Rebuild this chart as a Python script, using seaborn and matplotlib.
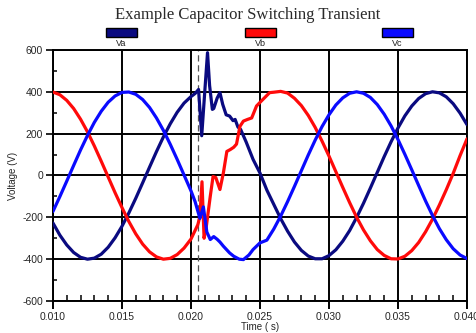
import matplotlib
matplotlib.use("Agg")
import matplotlib.pyplot as plt
from matplotlib.patches import Rectangle
from matplotlib.ticker import MultipleLocator, FormatStrFormatter
import pandas as pd
import seaborn as sns

# --- data (time in ms, voltage in V) ---
va_time_ms = [
    10.0, 10.5, 11.0, 11.5, 12.0, 12.5, 13.0, 13.5, 14.0, 14.5, 15.0,
    15.5, 16.0, 16.5, 17.0, 17.5, 18.0, 18.5, 19.0, 19.5, 20.0,
    20.3, 20.55, 20.78, 21.0, 21.2, 21.35, 21.55, 21.65, 21.9, 22.1,
    22.3, 22.55, 22.8, 23.05, 23.2, 23.4, 23.6, 24.0, 24.5, 25.0, 25.5,
    26.0, 26.5, 27.0, 27.5, 28.0, 28.5, 29.0, 29.5, 30.0, 30.5, 31.0,
    31.5, 32.0, 32.5, 33.0, 33.5, 34.0, 34.5, 35.0, 35.5, 36.0, 36.5,
    37.0, 37.5, 38.0, 38.5, 39.0, 39.5, 40.0,
]
va_volts = [
    -227, -285, -332, -368, -391, -400, -395, -376, -343, -298, -243,
    -179, -109, -35, 40, 114, 184, 247, 302, 346, 377,
    392, 411, 190, 400, 587, 430, 316, 320, 370, 396,
    340, 290, 284, 262, 268, 232, 220, 160, 77, 12, -70,
    -138, -206, -266, -318, -358, -385, -398, -398, -383, -355, -314,
    -263, -201, -133, -60, 15, 90, 161, 227, 285, 332, 368,
    391, 400, 395, 376, 343, 298, 243,
]

vb_time_ms = [
    10.0, 10.5, 11.0, 11.5, 12.0, 12.5, 13.0, 13.5, 14.0, 14.5, 15.0,
    15.5, 16.0, 16.5, 17.0, 17.5, 18.0, 18.5, 19.0, 19.5, 20.0,
    20.5, 20.65, 20.8, 20.95, 21.1, 21.4, 21.6, 21.8, 22.1, 22.35,
    22.6, 22.85, 23.1, 23.3, 23.55, 23.8, 24.1, 24.4, 24.75, 25.1, 25.7,
    26.0, 26.5, 27.0, 27.5, 28.0, 28.5, 29.0, 29.5, 30.0, 30.5, 31.0,
    31.5, 32.0, 32.5, 33.0, 33.5, 34.0, 34.5, 35.0, 35.5, 36.0, 36.5,
    37.0, 37.5, 38.0, 38.5, 39.0, 39.5, 40.0,
]
vb_volts = [
    399, 386, 359, 320, 269, 209, 141, 68, -7, -82, -153,
    -220, -279, -328, -365, -389, -400, -396, -378, -347, -304,
    -235, -195, -30, -300, -250, -99, -5, -10, -67, 13,
    115, 124, 135, 150, 235, 260, 268, 275, 332, 356, 396,
    398, 402, 394, 369, 334, 287, 230, 164, 93, 18, -57,
    -130, -199, -260, -312, -354, -382, -398, -399, -386, -359, -320,
    -269, -209, -141, -68, 10, 95, 175,
]

vc_time_ms = [
    10.0, 10.5, 11.0, 11.5, 12.0, 12.5, 13.0, 13.5, 14.0, 14.5, 15.0,
    15.5, 16.0, 16.5, 17.0, 17.5, 18.0, 18.5, 19.0, 19.5, 20.0,
    20.3, 20.65, 20.9, 21.15, 21.4, 21.65, 21.9, 22.1, 22.35, 22.8,
    23.1, 23.5, 23.8, 24.2, 24.5, 25.0,
    25.5, 26.0, 26.5, 27.0, 27.5, 28.0, 28.5, 29.0, 29.5, 30.0, 30.5,
    31.0, 31.5, 32.0, 32.5, 33.0, 33.5, 34.0, 34.5, 35.0, 35.5, 36.0,
    36.5, 37.0, 37.5, 38.0, 38.5, 39.0, 39.5, 40.0,
]
vc_volts = [
    -172, -101, -27, 48, 122, 191, 254, 307, 350, 380, 397,
    399, 388, 363, 325, 275, 216, 149, 77, 2, -73,
    -125, -205, -150, -270, -306, -292, -305, -318, -338, -370,
    -386, -400, -402, -380, -354, -322,
    -309, -256, -194, -125, -52, 23, 98, 169, 234, 290, 337,
    371, 393, 400, 393, 373, 339, 293, 237, 172, 101, 27,
    -48, -122, -191, -254, -307, -350, -380, -397,
]

series_names = ["Va", "Vb", "Vc"]
switch_time_ms = 20.53

colors = {"Va": "#0a0a80", "Vb": "#ff0a0a", "Vc": "#0a0aff"}

frames = []
for name, tt, vv in [
    ("Va", va_time_ms, va_volts),
    ("Vb", vb_time_ms, vb_volts),
    ("Vc", vc_time_ms, vc_volts),
]:
    frames.append(pd.DataFrame({"time": [t / 1000 for t in tt], "volts": vv, "phase": name}))
df = pd.concat(frames, ignore_index=True)

sns.set_style("white")
plt.rcParams["font.family"] = ["Liberation Sans", "DejaVu Sans"]
plt.rcParams["axes.unicode_minus"] = False

fig = plt.figure(figsize=(4.77, 3.33), dpi=100)
ax = fig.add_axes([0.111, 0.096, 0.868, 0.754])

for name in series_names:
    sns.lineplot(
        data=df[df["phase"] == name],
        x="time",
        y="volts",
        color=colors[name],
        linewidth=2.3,
        sort=False,
        estimator=None,
        ax=ax,
        zorder=3,
    )

ax.axvline(switch_time_ms / 1000, color="#555555", linestyle=(0, (5, 3)), linewidth=0.9, zorder=2)

ax.set_xlim(0.010, 0.040)
ax.set_ylim(-600, 600)
ax.xaxis.set_major_locator(MultipleLocator(0.005))
ax.xaxis.set_minor_locator(MultipleLocator(0.001))
ax.yaxis.set_major_locator(MultipleLocator(200))
ax.yaxis.set_minor_locator(MultipleLocator(100))
ax.xaxis.set_major_formatter(FormatStrFormatter("%.3f"))
ax.grid(True, which="major", color="black", linewidth=1.4, zorder=1)
ax.set_axisbelow(True)

# seaborn's white style hides ticks, switch them back on
ax.tick_params(which="both", bottom=True, left=True, top=False, right=False)
ax.tick_params(axis="x", which="major", direction="out", length=6, width=1.4, pad=2,
               labelsize=7.5, color="black")
ax.tick_params(axis="x", which="minor", direction="in", length=4, width=1.1, color="black")
ax.tick_params(axis="y", which="major", direction="out", length=5, width=1.2, pad=2,
               labelsize=7.5, color="black")
ax.tick_params(axis="y", which="minor", direction="in", length=3, width=1.1, color="black")
for side in ["left", "bottom", "top", "right"]:
    ax.spines[side].set_color("black")
    ax.spines[side].set_linewidth(1.4)

ax.set_xlabel("Time ( s)", fontsize=7, labelpad=0)
ax.set_ylabel("Voltage (V)", fontsize=7, labelpad=3)

fig.text(0.52, 0.955, "Example Capacitor Switching Transient", ha="center", va="center",
         fontsize=12, family=["Liberation Serif", "DejaVu Serif"], color="#2a2a2a")

# legend swatches above the axes
legend_x = [0.222, 0.513, 0.800]
for name, lx in zip(series_names, legend_x):
    fig.add_artist(Rectangle((lx, 0.890), 0.065, 0.026, transform=fig.transFigure,
                             facecolor=colors[name], edgecolor="black", linewidth=1.0))
    fig.text(lx + 0.0325, 0.870, name, ha="center", va="center", fontsize=6.5, color="#222222")

fig.savefig("out.png", dpi=100)
